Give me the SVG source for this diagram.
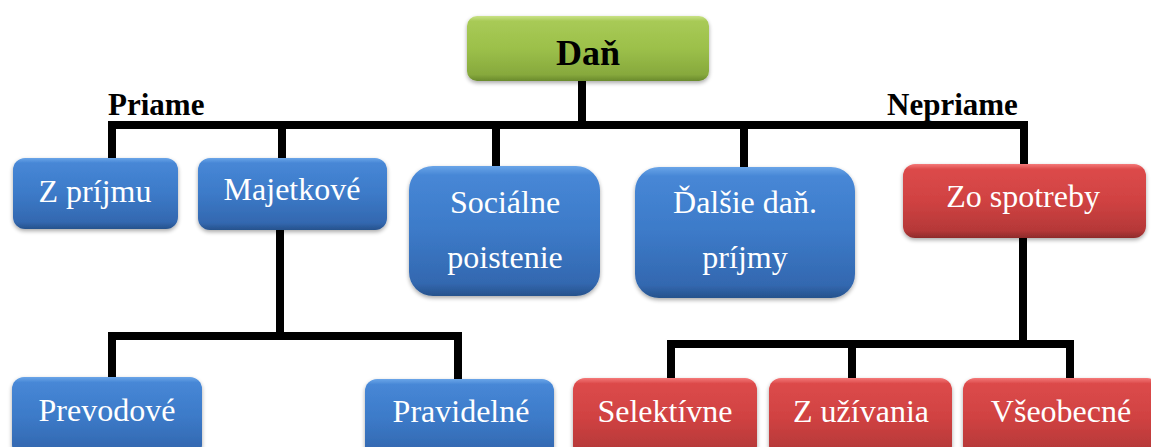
<svg xmlns="http://www.w3.org/2000/svg" width="1151" height="447" viewBox="0 0 1151 447">
<defs>
<linearGradient id="gBlue" x1="0" y1="0" x2="0" y2="1">
<stop offset="0" stop-color="#6aa5e8"/><stop offset="0.07" stop-color="#4787d6"/><stop offset="0.5" stop-color="#3c7ac8"/><stop offset="0.9" stop-color="#3368b0"/><stop offset="1" stop-color="#26528c"/>
</linearGradient>
<linearGradient id="gRed" x1="0" y1="0" x2="0" y2="1">
<stop offset="0" stop-color="#f47878"/><stop offset="0.07" stop-color="#dc4a4a"/><stop offset="0.5" stop-color="#d04242"/><stop offset="0.9" stop-color="#b53838"/><stop offset="1" stop-color="#8e2b2b"/>
</linearGradient>
<linearGradient id="gGreen" x1="0" y1="0" x2="0" y2="1">
<stop offset="0" stop-color="#c9e286"/><stop offset="0.08" stop-color="#a8ca56"/><stop offset="0.5" stop-color="#9cc04a"/><stop offset="0.9" stop-color="#87a93d"/><stop offset="1" stop-color="#6a8a2c"/>
</linearGradient>
<filter id="sh" x="-10%" y="-10%" width="120%" height="130%">
<feGaussianBlur in="SourceAlpha" stdDeviation="2"/>
<feOffset dx="0" dy="2" result="b"/>
<feComponentTransfer><feFuncA type="linear" slope="0.35"/></feComponentTransfer>
<feMerge><feMergeNode/><feMergeNode in="SourceGraphic"/></feMerge>
</filter>
</defs>
<style>
.blue{fill:url(#gBlue);filter:url(#sh)}
.red{fill:url(#gRed);filter:url(#sh)}
.green{fill:url(#gGreen);filter:url(#sh)}
text{font-family:'Liberation Serif','Tinos','Times New Roman','DejaVu Serif',serif}
.t{font-size:32px;fill:#ffffff;text-anchor:middle}
.h{font-weight:bold;fill:#000000}
.c{fill:none;stroke:#000000;stroke-width:8;stroke-linejoin:miter;stroke-linecap:butt}
</style>
<g id="connectors">
<path class="c" d="M582 81 V125"/>
<path class="c" d="M112 161 V125 H1024 V165"/>
<path class="c" d="M282 125 V158"/>
<path class="c" d="M496 125 V166"/>
<path class="c" d="M744 125 V167"/>
<path class="c" d="M280 230 V336"/>
<path class="c" d="M112 378 V336 H458 V379"/>
<path class="c" d="M1023 238 V344"/>
<path class="c" d="M671 378 V344 H1070 V378"/>
<path class="c" d="M852 344 V378"/>
</g>
<g id="labels">
<text class="h" x="108" y="115" font-size="31">Priame</text>
<text class="h" x="887" y="115" font-size="31">Nepriame</text>
</g>
<g id="dan">
<rect class="green" x="467" y="16" width="242" height="65" rx="10"/>
<text class="h" x="588" y="65" font-size="36" text-anchor="middle">Daň</text>
</g>
<g id="z-prijmu">
<rect class="blue" x="13" y="158" width="165" height="71" rx="12"/>
<text class="t" x="95" y="202">Z príjmu</text>
</g>
<g id="majetkove">
<rect class="blue" x="198" y="158" width="189" height="72" rx="12"/>
<text class="t" x="292" y="200">Majetkové</text>
</g>
<g id="socialne">
<rect class="blue" x="409" y="166" width="191" height="130" rx="24"/>
<text class="t" x="505" y="213">Sociálne</text>
<text class="t" x="505" y="268">poistenie</text>
</g>
<g id="dalsie">
<rect class="blue" x="635" y="167" width="220" height="131" rx="24"/>
<text class="t" x="745" y="213">Ďalšie daň.</text>
<text class="t" x="745" y="268">príjmy</text>
</g>
<g id="zo-spotreby">
<rect class="red" x="903" y="164" width="243" height="74" rx="12"/>
<text class="t" x="1023" y="207">Zo spotreby</text>
</g>
<g id="prevodove">
<rect class="blue" x="12" y="377" width="190" height="80" rx="12"/>
<text class="t" x="107" y="421">Prevodové</text>
</g>
<g id="pravidelne">
<rect class="blue" x="365" y="379" width="189" height="80" rx="12"/>
<text class="t" x="461" y="422">Pravidelné</text>
</g>
<g id="selektivne">
<rect class="red" x="573" y="378" width="184" height="80" rx="12"/>
<text class="t" x="665" y="422">Selektívne</text>
</g>
<g id="z-uzivania">
<rect class="red" x="769" y="378" width="183" height="80" rx="12"/>
<text class="t" x="861" y="422">Z užívania</text>
</g>
<g id="vseobecne">
<rect class="red" x="963" y="378" width="196" height="80" rx="12"/>
<text class="t" x="1061" y="422">Všeobecné</text>
</g>
</svg>
